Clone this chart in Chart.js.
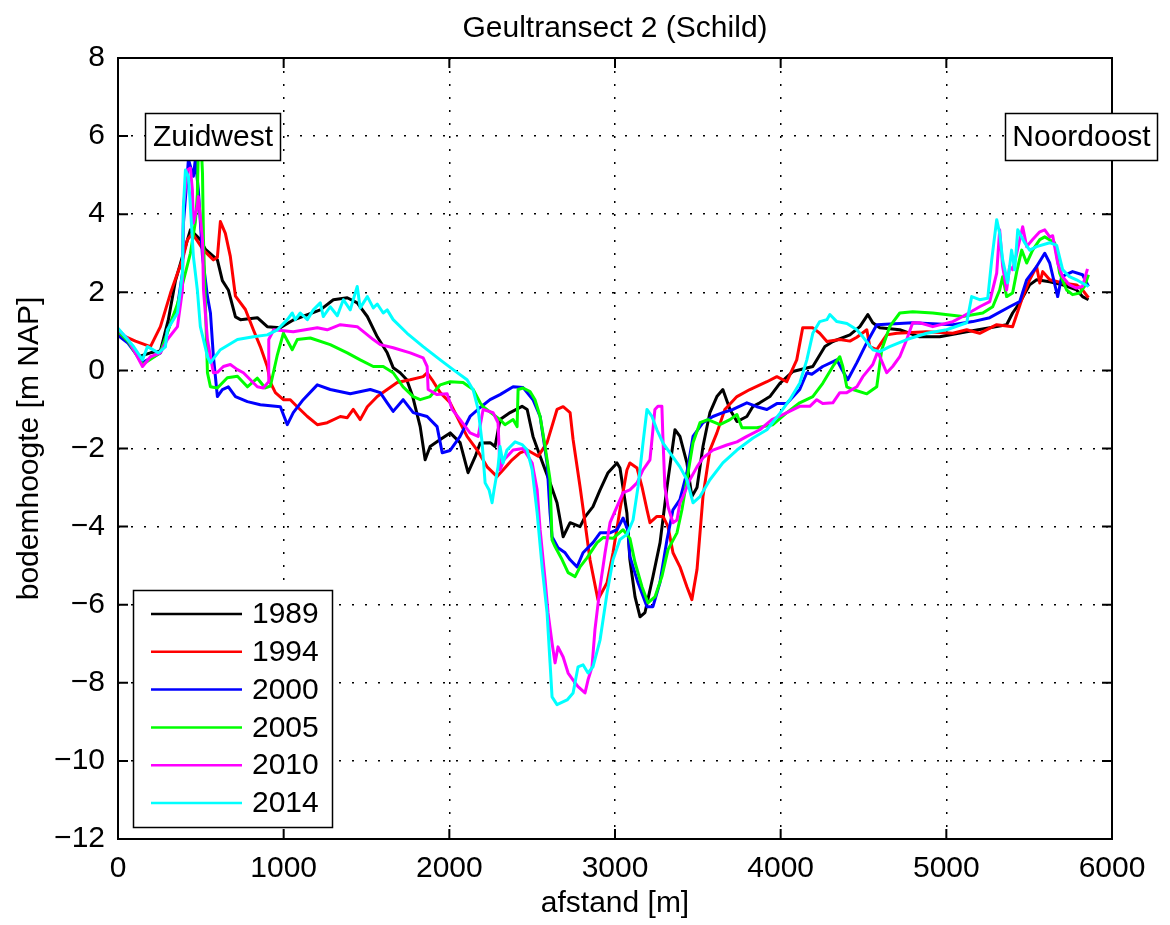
<!DOCTYPE html>
<html>
<head>
<meta charset="utf-8">
<script src="https://cdn.jsdelivr.net/npm/chart.js@4/dist/chart.umd.min.js"></script>
<style>
  html, body { margin: 0; padding: 0; background: #fff; }
  #wrap { width: 1170px; height: 925px; }
</style>
</head>
<body>
<div id="wrap"><canvas id="chart" width="1170" height="925"></canvas></div>
<script>
// ===== Geultransect 2 (Schild) — bodemhoogte per jaar =====

const TITLE = 'Geultransect 2 (Schild)';
const X_LABEL = 'afstand [m]';
const Y_LABEL = 'bodemhoogte [m NAP]';
const JAREN = ['1989', '1994', '2000', '2005', '2010', '2014'];
const KLEUREN = ['#000000', '#ff0000', '#0000ff', '#00ff00', '#ff00ff', '#00ffff'];
const X_TICKS = [0, 1000, 2000, 3000, 4000, 5000, 6000];
const Y_TICKS = [-12, -10, -8, -6, -4, -2, 0, 2, 4, 6, 8];

// [afstand (m), hoogte (m NAP)]
const jaar1989 = [[0,0.91],[60,0.75],[124,0.35],[196,0.45],[256,0.5],[304,1.3],[347,2.3],[395,3.0],[437,3.6],[497,3.35],[528,3.1],[600,2.83],[630,2.3],[666,2.06],[709,1.37],[739,1.3],[841,1.35],[901,1.12],[980,1.09],[1058,1.29],[1221,1.55],[1300,1.81],[1384,1.86],[1444,1.73],[1505,1.38],[1565,0.86],[1625,0.45],[1661,0.07],[1703,-0.06],[1743,-0.24],[1779,-0.67],[1824,-1.44],[1854,-2.29],[1884,-1.95],[1945,-1.77],[2005,-1.6],[2065,-1.85],[2113,-2.62],[2156,-2.21],[2186,-1.86],[2246,-1.85],[2276,-1.95],[2306,-1.26],[2367,-1.08],[2439,-0.92],[2470,-1.0],[2505,-1.69],[2548,-2.2],[2608,-2.88],[2650,-3.39],[2687,-4.26],[2729,-3.9],[2789,-4.0],[2819,-3.75],[2867,-3.49],[2910,-3.06],[2958,-2.62],[3012,-2.37],[3030,-2.5],[3072,-3.66],[3090,-4.85],[3121,-5.8],[3151,-6.31],[3181,-6.2],[3229,-5.28],[3272,-4.41],[3314,-2.98],[3362,-1.52],[3392,-1.69],[3434,-2.37],[3464,-3.23],[3495,-3.0],[3531,-1.95],[3573,-1.08],[3615,-0.67],[3651,-0.49],[3694,-1.0],[3736,-1.31],[3796,-1.18],[3833,-0.92],[3874,-0.83],[3935,-0.67],[3995,-0.33],[4073,-0.03],[4194,0.1],[4267,0.61],[4315,0.74],[4418,0.91],[4478,1.12],[4526,1.43],[4556,1.22],[4598,1.09],[4719,1.04],[4839,0.86],[4960,0.86],[5123,0.99],[5262,1.09],[5364,1.17],[5400,1.47],[5443,1.73],[5503,2.19],[5545,2.32],[5624,2.27],[5702,2.19],[5786,2.06],[5822,1.89],[5858,1.81]];

const jaar1994 = [[0,0.95],[105,0.75],[196,0.61],[256,1.12],[317,1.98],[359,2.49],[389,2.83],[419,3.34],[449,3.51],[516,3.08],[576,2.83],[600,2.9],[618,3.81],[648,3.51],[678,2.92],[709,1.9],[769,1.56],[817,1.04],[859,0.61],[901,0.1],[920,-0.31],[950,-0.57],[998,-0.75],[1040,-0.75],[1082,-0.93],[1143,-1.18],[1203,-1.39],[1263,-1.34],[1342,-1.18],[1384,-1.21],[1420,-1.0],[1462,-1.26],[1505,-0.93],[1565,-0.67],[1625,-0.49],[1685,-0.31],[1764,-0.24],[1842,-0.16],[1866,-0.06],[1896,-0.24],[1945,-0.57],[2005,-0.83],[2065,-1.34],[2107,-1.69],[2168,-2.04],[2228,-2.47],[2288,-2.72],[2324,-2.55],[2379,-2.29],[2427,-2.11],[2470,-2.04],[2536,-2.2],[2590,-1.85],[2650,-1.0],[2687,-0.93],[2729,-1.08],[2747,-1.77],[2789,-2.98],[2819,-3.9],[2849,-4.85],[2897,-5.87],[2952,-5.44],[2988,-4.67],[3030,-3.57],[3072,-2.55],[3090,-2.37],[3133,-2.5],[3163,-2.98],[3193,-3.57],[3211,-3.9],[3253,-3.74],[3290,-3.74],[3320,-4.0],[3350,-4.67],[3392,-5.03],[3434,-5.54],[3464,-5.87],[3495,-5.1],[3531,-3.23],[3573,-2.04],[3615,-1.6],[3663,-1.0],[3736,-0.67],[3814,-0.49],[3917,-0.29],[3977,-0.16],[4037,-0.29],[4097,0.27],[4133,1.09],[4194,1.09],[4236,0.95],[4279,0.74],[4357,0.79],[4418,0.75],[4460,0.85],[4520,1.04],[4538,0.61],[4580,0.53],[4640,0.91],[4701,0.95],[4882,0.99],[5039,0.95],[5123,1.04],[5201,0.95],[5304,1.17],[5400,1.12],[5455,1.81],[5503,2.32],[5545,2.66],[5564,2.24],[5582,2.53],[5624,2.32],[5702,2.24],[5786,2.19],[5822,2.06],[5858,1.86]];

const jaar2000 = [[0,0.9],[60,0.7],[148,0.2],[256,0.45],[317,1.22],[359,1.63],[389,2.49],[395,3.77],[419,5.05],[425,5.4],[455,4.97],[467,5.4],[485,4.62],[510,2.92],[540,1.89],[558,1.47],[576,0.35],[600,-0.67],[630,-0.49],[666,-0.42],[709,-0.67],[781,-0.8],[859,-0.88],[980,-0.93],[1022,-1.39],[1058,-1.08],[1118,-0.75],[1203,-0.37],[1281,-0.49],[1402,-0.6],[1523,-0.49],[1583,-0.57],[1625,-0.83],[1661,-1.05],[1721,-0.75],[1782,-1.08],[1866,-1.18],[1926,-1.44],[1957,-2.11],[2005,-2.05],[2065,-1.69],[2125,-1.18],[2186,-0.95],[2246,-0.75],[2306,-0.62],[2385,-0.42],[2445,-0.44],[2505,-0.75],[2548,-1.18],[2590,-2.37],[2608,-3.65],[2620,-4.26],[2656,-4.54],[2699,-4.67],[2729,-4.85],[2771,-5.03],[2807,-4.67],[2867,-4.41],[2910,-4.16],[2970,-4.16],[3012,-4.08],[3049,-3.78],[3078,-4.1],[3090,-4.77],[3139,-5.44],[3193,-6.05],[3229,-6.05],[3271,-5.44],[3314,-4.33],[3350,-3.57],[3392,-3.31],[3434,-2.62],[3471,-1.69],[3531,-1.34],[3591,-1.18],[3651,-1.08],[3712,-1.0],[3796,-0.83],[3856,-0.93],[3917,-1.0],[3977,-0.85],[4037,-0.85],[4115,-0.49],[4158,-0.06],[4188,-0.1],[4254,0.1],[4339,0.27],[4369,0.03],[4405,-0.24],[4460,0.2],[4520,0.71],[4580,1.17],[4797,1.22],[5039,1.17],[5159,1.25],[5262,1.35],[5382,1.63],[5443,1.76],[5485,2.32],[5545,2.66],[5594,3.0],[5624,2.75],[5672,1.89],[5696,2.4],[5762,2.53],[5822,2.45],[5858,2.15]];

const jaar2005 = [[0,1.0],[60,0.75],[148,0.15],[256,0.45],[317,1.2],[359,1.7],[395,2.3],[437,3.0],[467,3.8],[479,4.5],[485,5.7],[503,5.7],[510,5.05],[516,3.35],[528,1.63],[540,-0.06],[558,-0.42],[600,-0.45],[660,-0.19],[721,-0.15],[781,-0.42],[841,-0.2],[889,-0.45],[920,-0.4],[962,0.4],[998,0.95],[1052,0.53],[1082,0.79],[1161,0.83],[1281,0.66],[1384,0.45],[1462,0.27],[1541,0.1],[1601,0.1],[1661,-0.06],[1721,-0.42],[1782,-0.67],[1824,-0.75],[1884,-0.67],[1945,-0.37],[2005,-0.29],[2083,-0.31],[2144,-0.49],[2186,-0.83],[2204,-0.93],[2306,-1.26],[2336,-1.39],[2385,-1.26],[2409,-1.44],[2415,-0.49],[2445,-0.45],[2487,-0.54],[2517,-0.75],[2548,-1.18],[2578,-1.95],[2608,-2.8],[2620,-4.34],[2638,-4.51],[2681,-4.85],[2717,-5.18],[2759,-5.28],[2789,-5.03],[2831,-4.8],[2892,-4.41],[2928,-4.28],[2988,-4.3],[3049,-4.08],[3090,-4.3],[3121,-4.92],[3163,-5.54],[3199,-5.95],[3241,-5.8],[3283,-5.28],[3320,-4.59],[3374,-4.16],[3404,-3.57],[3434,-2.8],[3471,-1.85],[3513,-1.34],[3561,-1.26],[3633,-1.39],[3694,-1.26],[3736,-1.13],[3766,-1.47],[3856,-1.47],[3953,-1.39],[4037,-1.08],[4115,-0.83],[4194,-0.67],[4254,-0.33],[4315,0.1],[4357,0.35],[4375,0.1],[4399,-0.42],[4436,-0.49],[4520,-0.6],[4580,-0.42],[4610,0.53],[4658,1.12],[4719,1.47],[4797,1.5],[4918,1.47],[5099,1.38],[5220,1.47],[5280,1.63],[5322,2.06],[5340,2.4],[5364,1.89],[5400,1.98],[5425,2.53],[5455,3.08],[5485,2.75],[5521,3.08],[5564,3.35],[5594,3.42],[5654,3.27],[5684,2.49],[5726,2.06],[5762,1.94],[5805,1.98],[5834,2.15],[5858,2.45]];

const jaar2010 = [[0,1.05],[60,0.8],[148,0.1],[196,0.35],[256,0.45],[298,0.79],[359,1.12],[389,2.06],[395,4.2],[419,5.13],[437,5.18],[449,4.62],[455,3.77],[479,4.2],[485,4.45],[510,3.35],[516,2.06],[540,0.79],[558,0.35],[576,-0.06],[600,-0.05],[636,0.1],[678,0.15],[721,0.02],[757,-0.06],[799,-0.24],[841,-0.42],[877,-0.45],[907,-0.3],[910,0.79],[940,1.04],[1058,0.99],[1203,1.09],[1263,1.04],[1342,1.17],[1444,1.12],[1541,0.79],[1583,0.66],[1661,0.58],[1764,0.45],[1842,0.32],[1866,0.1],[1872,-0.49],[1926,-0.62],[1987,-0.6],[2017,-1.0],[2065,-1.26],[2125,-1.6],[2174,-1.69],[2204,-1.0],[2264,-1.08],[2294,-1.34],[2306,-2.55],[2330,-2.29],[2385,-2.04],[2445,-2.0],[2500,-2.37],[2530,-3.06],[2548,-4.08],[2578,-5.36],[2596,-6.21],[2620,-6.98],[2638,-7.49],[2656,-7.08],[2687,-7.34],[2717,-7.75],[2747,-7.93],[2777,-8.1],[2819,-8.26],[2837,-7.93],[2861,-7.6],[2879,-6.64],[2910,-5.54],[2940,-4.67],[2970,-3.9],[3012,-3.49],[3049,-3.13],[3090,-3.06],[3133,-2.88],[3169,-2.55],[3211,-2.29],[3241,-1.0],[3259,-0.92],[3283,-0.92],[3289,-1.69],[3301,-2.98],[3320,-3.49],[3350,-3.9],[3374,-3.83],[3392,-3.39],[3410,-3.23],[3452,-2.8],[3495,-2.47],[3531,-2.24],[3591,-2.04],[3675,-1.91],[3736,-1.83],[3796,-1.69],[3874,-1.52],[3947,-1.26],[4013,-1.13],[4115,-0.92],[4176,-0.92],[4218,-0.75],[4254,-0.85],[4315,-0.83],[4357,-0.57],[4399,-0.57],[4460,-0.42],[4496,-0.16],[4556,0.15],[4586,0.48],[4640,-0.06],[4676,0.1],[4719,0.35],[4761,0.79],[4797,1.22],[4839,1.22],[4918,1.12],[5039,1.25],[5099,1.38],[5201,1.63],[5262,1.76],[5304,2.49],[5322,3.6],[5340,2.66],[5364,2.06],[5382,2.66],[5400,2.58],[5425,3.0],[5461,3.68],[5485,3.17],[5521,3.35],[5564,3.55],[5594,3.6],[5624,3.42],[5642,3.45],[5672,2.75],[5702,2.4],[5743,2.19],[5786,2.11],[5822,2.15],[5852,2.6]];

const jaar2014 = [[0,1.08],[94,0.61],[148,0.27],[178,0.61],[244,0.45],[286,0.6],[298,1.04],[359,1.47],[389,2.49],[395,4.2],[407,5.13],[425,4.97],[437,4.2],[455,2.92],[479,2.06],[497,1.12],[516,0.79],[540,0.35],[558,0.2],[618,0.53],[721,0.79],[817,0.86],[901,0.91],[962,1.04],[1022,1.3],[1052,1.47],[1070,1.3],[1100,1.47],[1143,1.3],[1179,1.55],[1221,1.73],[1239,1.38],[1281,1.63],[1324,1.4],[1360,1.81],[1402,1.55],[1444,2.15],[1462,1.6],[1505,1.89],[1541,1.6],[1565,1.7],[1601,1.47],[1625,1.55],[1661,1.3],[1745,0.95],[1842,0.61],[1945,0.27],[2023,0.02],[2107,-0.24],[2144,-0.5],[2174,-1.0],[2198,-1.86],[2216,-2.88],[2240,-3.06],[2258,-3.39],[2270,-3.06],[2294,-2.47],[2306,-1.95],[2324,-2.37],[2348,-2.04],[2397,-1.83],[2439,-1.9],[2470,-2.04],[2500,-2.55],[2530,-3.65],[2560,-5.03],[2590,-6.21],[2608,-7.49],[2620,-8.36],[2650,-8.56],[2711,-8.44],[2747,-8.26],[2777,-7.59],[2807,-7.54],[2837,-7.75],[2867,-7.59],[2910,-6.9],[2952,-5.7],[2988,-4.85],[3030,-4.33],[3072,-4.2],[3109,-3.83],[3139,-2.98],[3169,-1.86],[3193,-1.0],[3223,-1.18],[3253,-1.52],[3290,-1.86],[3332,-2.11],[3392,-2.47],[3434,-2.8],[3471,-3.39],[3513,-3.23],[3573,-2.8],[3651,-2.37],[3736,-2.04],[3833,-1.73],[3917,-1.52],[3995,-1.1],[4055,-0.75],[4115,-0.33],[4158,0.27],[4194,0.95],[4236,1.25],[4279,1.3],[4297,1.43],[4339,1.25],[4400,1.2],[4460,1.04],[4496,0.86],[4556,0.53],[4598,0.48],[4658,0.61],[4761,0.79],[4882,0.95],[5002,1.04],[5123,1.22],[5153,1.89],[5201,1.81],[5250,1.85],[5274,2.83],[5304,3.86],[5322,3.51],[5340,2.83],[5370,2.24],[5394,3.08],[5413,2.58],[5431,3.6],[5473,3.27],[5503,3.08],[5545,3.17],[5624,3.27],[5666,3.2],[5702,2.58],[5743,2.4],[5786,2.32],[5858,2.15]];

const REEKSEN = [jaar1989, jaar1994, jaar2000, jaar2005, jaar2010, jaar2014];

const FONT = '"Liberation Sans", Arial, Helvetica, sans-serif';
Chart.defaults.font.family = FONT;
Chart.defaults.color = '#000';

const minus = v => (v < 0 ? '\u2212' + Math.abs(v) : String(v));

// titel, kader met tikjes naar binnen, tekstvakjes en legenda (matlab-stijl)
const matlabPlugin = {
  id: 'matlab',
  afterDraw(chart) {
    const { ctx, chartArea: a, scales } = chart;
    ctx.save();

    // titel
    ctx.fillStyle = '#000';
    ctx.font = `30px ${FONT}`;
    ctx.textAlign = 'center';
    ctx.textBaseline = 'middle';
    ctx.fillText(TITLE, (a.left + a.right) / 2, 29);

    // kader
    ctx.strokeStyle = '#000';
    ctx.lineWidth = 2;
    ctx.strokeRect(a.left, a.top, a.right - a.left, a.bottom - a.top);

    // tikjes
    const TL = 10;
    ctx.lineWidth = 2;
    ctx.beginPath();
    X_TICKS.forEach(v => {
      const x = scales.x.getPixelForValue(v);
      ctx.moveTo(x, a.bottom); ctx.lineTo(x, a.bottom - TL);
      ctx.moveTo(x, a.top);    ctx.lineTo(x, a.top + TL);
    });
    Y_TICKS.forEach(v => {
      const y = scales.y.getPixelForValue(v);
      ctx.moveTo(a.left, y);  ctx.lineTo(a.left + TL, y);
      ctx.moveTo(a.right, y); ctx.lineTo(a.right - TL, y);
    });
    ctx.stroke();

    // tekstvakjes Zuidwest / Noordoost
    const vakje = (text, x, y, w, h) => {
      ctx.fillStyle = '#fff';
      ctx.fillRect(x, y, w, h);
      ctx.lineWidth = 1.5;
      ctx.strokeStyle = '#000';
      ctx.strokeRect(x, y, w, h);
      ctx.fillStyle = '#000';
      ctx.font = `30px ${FONT}`;
      ctx.textAlign = 'center';
      ctx.textBaseline = 'middle';
      ctx.fillText(text, x + w / 2, y + h / 2 + 1);
    };
    vakje('Zuidwest', 145.5, 113.5, 135, 47);
    vakje('Noordoost', 1005.5, 113.5, 152, 47);

    // legenda
    const lx = 133.5, ly = 590.5, lw = 199, lh = 237;
    ctx.fillStyle = '#fff';
    ctx.fillRect(lx, ly, lw, lh);
    ctx.lineWidth = 1.5;
    ctx.strokeStyle = '#000';
    ctx.strokeRect(lx, ly, lw, lh);
    ctx.font = `30px ${FONT}`;
    ctx.textAlign = 'left';
    ctx.textBaseline = 'middle';
    chart.data.datasets.forEach((ds, i) => {
      const y = 614 + i * 37.8;
      ctx.strokeStyle = ds.borderColor;
      ctx.lineWidth = 2.5;
      ctx.beginPath();
      ctx.moveTo(151, y); ctx.lineTo(242, y);
      ctx.stroke();
      ctx.fillStyle = '#000';
      ctx.fillText(ds.label, 252, y + 1);
    });

    ctx.restore();
  }
};

const datasets = JAREN.map((jaar, i) => ({
  label: jaar,
  data: REEKSEN[i].map(([x, y]) => ({ x, y })),
  borderColor: KLEUREN[i],
  backgroundColor: KLEUREN[i],
  borderWidth: 3,
  borderJoinStyle: 'round',
  pointRadius: 0,
  tension: 0,
  fill: false,
  order: JAREN.length - i,   // laatste jaar bovenop
}));

new Chart(document.getElementById('chart').getContext('2d'), {
  type: 'line',
  data: { datasets },
  options: {
    responsive: false,
    animation: false,
    devicePixelRatio: 1,
    layout: { padding: { top: 58, right: 58, left: 0, bottom: 0 } },
    plugins: {
      legend: { display: false },
      tooltip: { enabled: false },
      title: { display: false },
    },
    scales: {
      x: {
        type: 'linear',
        min: 0, max: 6000,
        afterBuildTicks: s => { s.ticks = X_TICKS.map(value => ({ value })); },
        afterFit: s => { s.height = 86; },
        ticks: { font: { size: 30 }, color: '#000', padding: 12, maxRotation: 0, callback: v => String(v) },
        grid: { color: '#000', lineWidth: 1.5, drawTicks: false },
        border: { display: false, dash: [2, 11] },
        title: { display: true, text: X_LABEL, font: { size: 30 }, color: '#000', padding: { top: 0, bottom: 3 } },
      },
      y: {
        type: 'linear',
        min: -12, max: 8,
        afterBuildTicks: s => { s.ticks = Y_TICKS.map(value => ({ value })); },
        afterFit: s => { s.width = 118; },
        ticks: { font: { size: 30 }, color: '#000', padding: 13, callback: minus },
        grid: { color: '#000', lineWidth: 1.5, drawTicks: false },
        border: { display: false, dash: [2, 11] },
        title: { display: true, text: Y_LABEL, font: { size: 30 }, color: '#000', padding: { top: 12, bottom: 0 } },
      },
    },
  },
  plugins: [matlabPlugin],
});
</script>
</body>
</html>
